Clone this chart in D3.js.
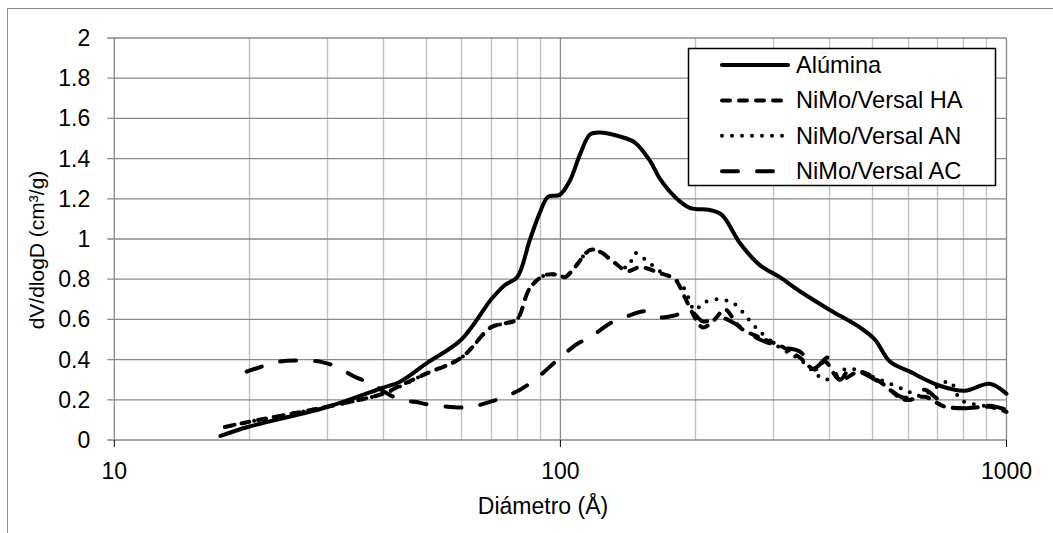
<!DOCTYPE html>
<html>
<head>
<meta charset="utf-8">
<script src="https://cdn.jsdelivr.net/npm/d3@7.9.0/dist/d3.min.js"></script>
<style>
  body { margin: 0; background: #fff; }
  svg { display: block; font-family: "Liberation Sans", Arial, sans-serif; }
</style>
</head>
<body>
<svg id="chart" width="1053" height="533"></svg>
<script>
// diameters (Å) and dV/dlogD values
const aluminaD = [17.3, 20, 30, 40, 43.7, 50, 60, 70, 75, 80, 85.4, 89.9, 93.8, 99.7, 105, 110.6, 116.5, 122.6, 135.9, 146.9, 158.7, 167.1, 180.5, 195, 216.2, 230.1, 252.5, 279.9, 310.3, 344.1, 401.8, 469.2, 506.9, 547.6, 607.1, 708.6, 805.9, 917.2, 1000];
const aluminaV = [0.02, 0.066, 0.164, 0.26, 0.29, 0.38, 0.50, 0.70, 0.77, 0.81, 0.995, 1.13, 1.21, 1.22, 1.29, 1.42, 1.52, 1.53, 1.51, 1.48, 1.39, 1.30, 1.21, 1.155, 1.144, 1.12, 0.98, 0.87, 0.81, 0.74, 0.647, 0.56, 0.50, 0.39, 0.34, 0.27, 0.245, 0.28, 0.23];

const haD = [17.7, 20, 30, 40, 43.7, 50, 60, 69.8, 75.1, 79.9, 85.4, 92.3, 99.7, 102.3, 107.8, 116.5, 122.6, 132.5, 141.6, 150.7, 167.1, 180.5, 190, 200.1, 208.5, 221.9, 233.6, 252.5, 279.9, 310.3, 344.1, 371.9, 391.5, 423.1, 469.2, 520, 591.6, 655.9, 727.2, 827, 917.2, 1000];
const haV = [0.065, 0.09, 0.166, 0.23, 0.27, 0.33, 0.41, 0.56, 0.58, 0.60, 0.755, 0.82, 0.82, 0.81, 0.86, 0.945, 0.937, 0.88, 0.84, 0.86, 0.83, 0.80, 0.71, 0.61, 0.56, 0.60, 0.65, 0.56, 0.51, 0.47, 0.41, 0.35, 0.39, 0.30, 0.34, 0.29, 0.20, 0.215, 0.166, 0.16, 0.165, 0.14];

const anD = [17.7, 20, 30, 40, 50, 60, 69.8, 75.1, 79.9, 85.4, 92.3, 99.7, 102.3, 107.8, 116.5, 122.6, 132.5, 141.6, 147, 154.6, 167.1, 180.5, 190, 200.1, 208.5, 224, 239, 248, 262, 279.9, 310.3, 344.1, 391.5, 405, 440, 520, 591.6, 640, 745.9, 790, 917.2, 1000];
const anV = [0.065, 0.09, 0.166, 0.23, 0.33, 0.41, 0.56, 0.58, 0.60, 0.755, 0.82, 0.82, 0.81, 0.86, 0.945, 0.937, 0.88, 0.86, 0.93, 0.90, 0.84, 0.80, 0.75, 0.645, 0.68, 0.70, 0.69, 0.67, 0.61, 0.54, 0.46, 0.40, 0.30, 0.31, 0.355, 0.30, 0.25, 0.22, 0.29, 0.20, 0.165, 0.15];

const acD = [19.8, 23.5, 26.1, 28.9, 31.2, 34.6, 37.4, 43.7, 47.2, 51, 58, 62.7, 69.5, 75.1, 81.2, 87.7, 94.7, 102.3, 109.4, 116.5, 129.1, 143.1, 154.6, 167.1, 180.5, 195, 208.5, 227.7, 246, 279.9, 318.4, 344.1, 371.9, 397.7, 423.1, 445.6, 494, 547.6, 591.6, 655.9, 690.6, 745.9, 848.8, 917.2, 1000];
const acV = [0.34, 0.39, 0.395, 0.39, 0.368, 0.315, 0.283, 0.20, 0.19, 0.175, 0.163, 0.163, 0.19, 0.215, 0.25, 0.30, 0.365, 0.43, 0.48, 0.51, 0.58, 0.62, 0.64, 0.61, 0.62, 0.645, 0.59, 0.61, 0.58, 0.50, 0.46, 0.44, 0.36, 0.41, 0.30, 0.35, 0.315, 0.25, 0.21, 0.25, 0.215, 0.165, 0.16, 0.17, 0.15];

const seriesNames = ['Alúmina', 'NiMo/Versal HA', 'NiMo/Versal AN', 'NiMo/Versal AC'];
const yTicks = [0, 0.2, 0.4, 0.6, 0.8, 1, 1.2, 1.4, 1.6, 1.8, 2];
const xTicks = [10, 100, 1000];

const series = [
  { name: seriesNames[0], d: aluminaD, v: aluminaV, dash: null },
  { name: seriesNames[1], d: haD, v: haV, dash: '8,9' },
  { name: seriesNames[2], d: anD, v: anV, dash: '0,10' },
  { name: seriesNames[3], d: acD, v: acV, dash: '16,19' }
];

const svg = d3.select('#chart');
const plotLeft = 114.3, plotRight = 1006.5, plotTop = 38, plotBottom = 440;
const grid = '#8a8a8a', minorGrid = '#c2c2c2';
const font = 23;

const x = d3.scaleLog().domain([10, 1000]).range([plotLeft, plotRight]);
const y = d3.scaleLinear().domain([0, 2]).range([plotBottom, plotTop]);

// outer frame (only left and top edges fall inside the picture)
svg.append('rect')
  .attr('x', 7.5).attr('y', 8.5)
  .attr('width', 1100).attr('height', 600)
  .attr('fill', 'none').attr('stroke', grid).attr('stroke-width', 1);

// vertical gridlines
const minors = [];
for (let dec = 10; dec < 1000; dec *= 10) {
  for (let k = 2; k <= 9; k++) minors.push(dec * k);
}
svg.append('g').selectAll('line').data(minors).join('line')
  .attr('x1', d => Math.round(x(d)) + 0.5).attr('x2', d => Math.round(x(d)) + 0.5)
  .attr('y1', plotTop).attr('y2', plotBottom)
  .attr('stroke', minorGrid).attr('stroke-width', 1.4);

svg.append('g').selectAll('line').data(xTicks).join('line')
  .attr('x1', d => x(d)).attr('x2', d => x(d))
  .attr('y1', plotTop).attr('y2', plotBottom)
  .attr('stroke', grid).attr('stroke-width', 1.3);

// horizontal gridlines, stretched left as tick marks
svg.append('g').selectAll('line').data(yTicks).join('line')
  .attr('x1', plotLeft - 7).attr('x2', plotRight)
  .attr('y1', d => y(d)).attr('y2', d => y(d))
  .attr('stroke', grid).attr('stroke-width', 1.3);

// x tick marks below the axis
svg.append('g').selectAll('line').data(xTicks).join('line')
  .attr('x1', d => x(d)).attr('x2', d => x(d))
  .attr('y1', plotBottom).attr('y2', plotBottom + 7)
  .attr('stroke', '#000').attr('stroke-width', 1);

// tick labels
svg.append('g').selectAll('text').data(yTicks).join('text')
  .attr('x', plotLeft - 24).attr('y', d => y(d))
  .attr('text-anchor', 'end').attr('dominant-baseline', 'central')
  .attr('font-size', font).attr('fill', '#000')
  .text(d => d3.format('~g')(d));

svg.append('g').selectAll('text').data(xTicks).join('text')
  .attr('x', d => x(d)).attr('y', 471)
  .attr('text-anchor', 'middle').attr('dominant-baseline', 'central')
  .attr('font-size', font).attr('fill', '#000')
  .text(d => d);

// axis titles
svg.append('text')
  .attr('x', 543).attr('y', 506)
  .attr('text-anchor', 'middle').attr('dominant-baseline', 'central')
  .attr('font-size', font).text('Diámetro (Å)');

svg.append('text')
  .attr('transform', 'translate(36,250) rotate(-90)')
  .attr('text-anchor', 'middle').attr('dominant-baseline', 'central')
  .attr('font-size', 21).text('dV/dlogD (cm³/g)');

// curves
const line = d3.line()
  .x(p => x(p[0]))
  .y(p => y(p[1]))
  .curve(d3.curveCatmullRom.alpha(0.5));

series.forEach(s => {
  const pts = s.d.map((d, i) => [d, s.v[i]]);
  svg.append('path')
    .attr('d', line(pts))
    .attr('fill', 'none')
    .attr('stroke', '#000')
    .attr('stroke-width', 4)
    .attr('stroke-linecap', 'round')
    .attr('stroke-linejoin', 'round')
    .attr('stroke-dasharray', s.dash);
});

// legend
const legend = svg.append('g');
legend.append('rect')
  .attr('x', 688.5).attr('y', 48.5)
  .attr('width', 307).attr('height', 137)
  .attr('fill', '#fff').attr('stroke', '#000').attr('stroke-width', 1.5);

series.forEach((s, i) => {
  const ly = 65 + i * 35.4;
  legend.append('line')
    .attr('x1', 722).attr('x2', 788)
    .attr('y1', ly).attr('y2', ly)
    .attr('stroke', '#000').attr('stroke-width', 4)
    .attr('stroke-linecap', 'round')
    .attr('stroke-dasharray', s.dash);
  legend.append('text')
    .attr('x', 796).attr('y', ly)
    .attr('dominant-baseline', 'central')
    .attr('font-size', 23.6).text(s.name);
});
</script>
</body>
</html>
